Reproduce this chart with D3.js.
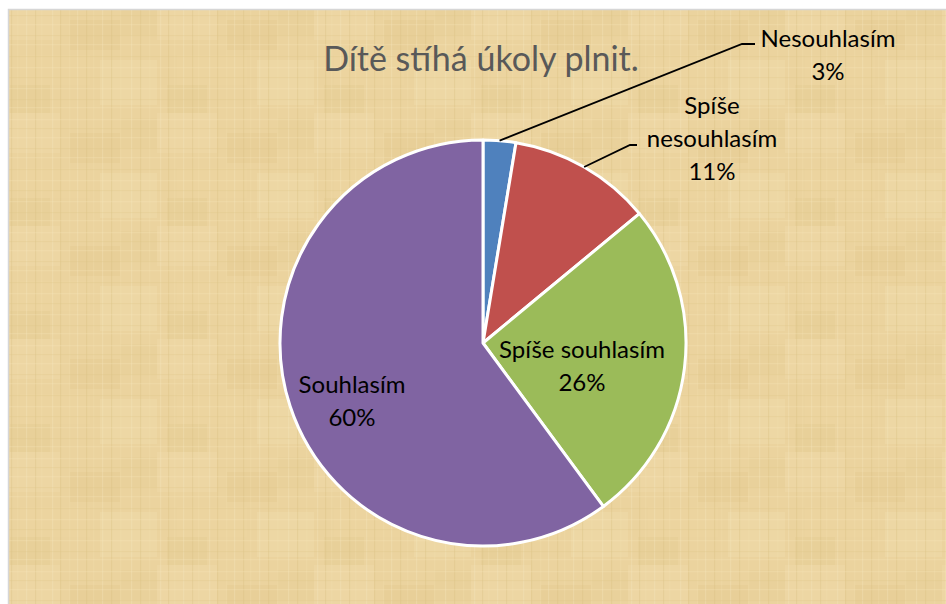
<!DOCTYPE html>
<html><head><meta charset="utf-8">
<script src="https://cdn.jsdelivr.net/npm/d3@7"></script>
<style>body{margin:0;background:#fff}svg{display:block}</style>
</head><body>
<script>
const categories = ["Nesouhlasím", "Spíše nesouhlasím", "Spíše souhlasím", "Souhlasím"];
const values = [2.6, 11.4, 25.9, 60.1];
const percentLabels = ["3%", "11%", "26%", "60%"];
const colors = ["#4f81bd", "#c0504d", "#9bbb59", "#8064a2"];
const title = "Dítě stíhá úkoly plnit.";

const W = 946, H = 604;
const svg = d3.select("body").append("svg").attr("width", W).attr("height", H);
const defs = svg.append("defs");

// parchment texture
const pat = defs.append("pattern").attr("id", "tex").attr("patternUnits", "userSpaceOnUse")
  .attr("width", 157).attr("height", 113);
pat.append("rect").attr("width", 157).attr("height", 113).attr("fill", "#ebd39e");
const blotches = [[0,0,60,40,"#f2dfb0"],[70,20,50,30,"#e2c78b"],[20,55,70,30,"#efd8a4"],[100,60,57,45,"#f3e1b5"],[10,85,40,28,"#e4ca90"],[120,5,37,30,"#e6cd95"]];
blotches.forEach(b => pat.append("rect").attr("x", b[0]).attr("y", b[1]).attr("width", b[2]).attr("height", b[3]).attr("fill", b[4]).attr("opacity", 0.3));
const vx = [3, 11, 17, 26, 35, 41, 52, 60, 69, 77, 86, 93, 102, 111, 120, 131, 140, 149];
vx.forEach((x, i) => pat.append("rect").attr("x", x).attr("y", 0).attr("width", 1.2).attr("height", 113)
  .attr("fill", i % 3 === 0 ? "#f7e8c0" : (i % 3 === 1 ? "#d8bd80" : "#f2deae")).attr("opacity", 0.3));
const hy = [6, 15, 24, 35, 44, 56, 67, 77, 88, 99, 107];
hy.forEach((y, i) => pat.append("rect").attr("x", 0).attr("y", y).attr("width", 157).attr("height", 1.2)
  .attr("fill", i % 2 === 0 ? "#f6e6bd" : "#dcc285").attr("opacity", 0.25));

svg.append("rect").attr("x", 8).attr("y", 9).attr("width", W - 8).attr("height", H - 9)
  .attr("fill", "url(#tex)");
svg.append("path").attr("d", `M8.5,${H}V9.5H${W}`).attr("fill", "none").attr("stroke", "#d6d6d6").attr("stroke-width", 1.5);

const cx = 483, cy = 343, r = 203;
const pie = d3.pie().sort(null).value(d => d)(values);
const arc = d3.arc().innerRadius(0).outerRadius(r);
const g = svg.append("g").attr("transform", `translate(${cx},${cy})`);
g.selectAll("path.slice").data(pie).join("path").attr("class", "slice")
  .attr("d", arc).attr("fill", (d, i) => colors[i])
  .attr("stroke", "#fff").attr("stroke-width", 3).attr("stroke-linejoin", "round");

const font = "Lato, 'Open Sans', sans-serif";
svg.append("text").attr("x", 481).attr("y", 71).attr("text-anchor", "middle")
  .attr("font-family", font).attr("font-size", 34)
  .attr("fill", "#595959").text(title);

function label(lines, x, y, lh) {
  const t = svg.append("text").attr("text-anchor", "middle").attr("font-family", font)
    .attr("font-size", 24).attr("fill", "#000");
  lines.forEach((s, i) => t.append("tspan").attr("x", x).attr("y", y + i * lh).text(s));
}
function leader(i, ex, ey, hx) {
  const a = (pie[i].startAngle + pie[i].endAngle) / 2;
  const px = cx + Math.sin(a) * r, py = cy - Math.cos(a) * r;
  svg.append("polyline").attr("points", `${px},${py} ${ex},${ey} ${hx},${ey}`)
    .attr("fill", "none").attr("stroke", "#000").attr("stroke-width", 1.8);
}
leader(0, 742, 44, 755);
leader(1, 630, 145, 637);

label([categories[0], percentLabels[0]], 828, 47, 33);
label(["Spíše", "nesouhlasím", percentLabels[1]], 712, 114, 33);
label([categories[2], percentLabels[2]], 582, 358, 33);
label([categories[3], percentLabels[3]], 352, 393, 33);
</script>
</body></html>
